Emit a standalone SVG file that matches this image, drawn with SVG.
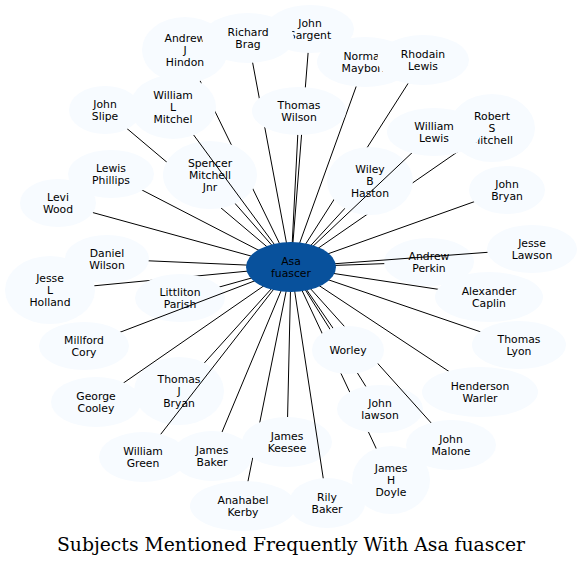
<svg xmlns="http://www.w3.org/2000/svg" width="582" height="567" viewBox="0 0 582 567">
<style>
.n ellipse{fill:#f7fbff;stroke:none}
.n text,.c text{font-family:"DejaVu Sans",sans-serif;font-size:10.8px;text-anchor:middle;fill:#000}
.e line{stroke:#000;stroke-width:1}
.c ellipse{fill:#08519c;stroke:none}
.t{font-family:"DejaVu Serif",serif;font-size:18.8px;text-anchor:middle;fill:#000}
</style>
<rect width="582" height="567" fill="#fff"/>
<g id="connectors">
<g class="e">
<line x1="291" y1="267" x2="185" y2="50"/>
<line x1="291" y1="267" x2="248" y2="38"/>
<line x1="291" y1="267" x2="310" y2="29"/>
<line x1="291" y1="267" x2="423" y2="60"/>
<line x1="291" y1="267" x2="105" y2="110"/>
<line x1="291" y1="267" x2="299" y2="111"/>
<line x1="291" y1="267" x2="492" y2="128"/>
<line x1="291" y1="267" x2="111" y2="174"/>
<line x1="291" y1="267" x2="210" y2="175"/>
<line x1="291" y1="267" x2="370" y2="181"/>
<line x1="291" y1="267" x2="507" y2="190"/>
<line x1="291" y1="267" x2="58" y2="203"/>
<line x1="291" y1="267" x2="107" y2="259"/>
<line x1="291" y1="267" x2="50" y2="290"/>
<line x1="291" y1="267" x2="180" y2="298"/>
<line x1="291" y1="267" x2="429" y2="262"/>
<line x1="291" y1="267" x2="519" y2="345"/>
<line x1="291" y1="267" x2="348" y2="350"/>
<line x1="291" y1="267" x2="179" y2="391"/>
<line x1="291" y1="267" x2="480" y2="392"/>
<line x1="291" y1="267" x2="380" y2="409"/>
<line x1="291" y1="267" x2="212" y2="456"/>
<line x1="291" y1="267" x2="287" y2="442"/>
<line x1="291" y1="267" x2="391" y2="480"/>
<line x1="291" y1="267" x2="243" y2="506"/>
</g>
</g>
<g id="n-spencer" class="n"><ellipse cx="210" cy="175" rx="47" ry="34"/><text><tspan x="210" y="167">Spencer</tspan><tspan x="210" y="179">Mitchell</tspan><tspan x="210" y="191">Jnr</tspan></text></g>
<g id="n-wiley" class="n"><ellipse cx="370" cy="181" rx="43" ry="34"/><text><tspan x="370" y="173">Wiley</tspan><tspan x="370" y="185">B</tspan><tspan x="370" y="197">Haston</tspan></text></g>
<g id="n-andrewperkin" class="n"><ellipse cx="429" cy="262" rx="45" ry="24"/><text><tspan x="429" y="260">Andrew</tspan><tspan x="429" y="272">Perkin</tspan></text></g>
<g id="n-littliton" class="n"><ellipse cx="180" cy="298" rx="45" ry="24"/><text><tspan x="180" y="296">Littliton</tspan><tspan x="180" y="308">Parish</tspan></text></g>
<g id="n-thomasjbryan" class="n"><ellipse cx="179" cy="391" rx="45" ry="34"/><text><tspan x="179" y="383">Thomas</tspan><tspan x="179" y="395">J</tspan><tspan x="179" y="407">Bryan</tspan></text></g>
<g id="n-jameskeesee" class="n"><ellipse cx="287" cy="442" rx="45" ry="25"/><text><tspan x="287" y="440">James</tspan><tspan x="287" y="452">Keesee</tspan></text></g>
<g id="n-johnlawson" class="n"><ellipse cx="380" cy="409" rx="43" ry="24"/><text><tspan x="380" y="407">John</tspan><tspan x="380" y="419">lawson</tspan></text></g>
<g id="connectors-over">
<g class="e">
<line x1="291" y1="267" x2="173" y2="107"/>
<line x1="291" y1="267" x2="365" y2="62"/>
<line x1="291" y1="267" x2="434" y2="132"/>
<line x1="291" y1="267" x2="532" y2="249"/>
<line x1="291" y1="267" x2="489" y2="297"/>
<line x1="291" y1="267" x2="84" y2="346"/>
<line x1="291" y1="267" x2="96" y2="402"/>
<line x1="291" y1="267" x2="143" y2="457"/>
<line x1="291" y1="267" x2="327" y2="503"/>
<line x1="291" y1="267" x2="451" y2="445"/>
</g>
</g>
<g id="n-andrewjhindon" class="n"><ellipse cx="185" cy="50" rx="43" ry="33"/><text><tspan x="185" y="42">Andrew</tspan><tspan x="185" y="54">J</tspan><tspan x="185" y="66">Hindon</tspan></text></g>
<g id="n-johnsargent" class="n"><ellipse cx="310" cy="29" rx="44" ry="24"/><text><tspan x="310" y="27">John</tspan><tspan x="310" y="39">Sargent</tspan></text></g>
<g id="n-richardbrag" class="n"><ellipse cx="248" cy="38" rx="46" ry="25"/><text><tspan x="248" y="36">Richard</tspan><tspan x="248" y="48">Brag</tspan></text></g>
<g id="n-norman" class="n"><ellipse cx="365" cy="62" rx="48" ry="25"/><text><tspan x="365" y="60">Norman</tspan><tspan x="365" y="72">Mayborn</tspan></text></g>
<g id="n-rhodain" class="n"><ellipse cx="423" cy="60" rx="46" ry="25"/><text><tspan x="423" y="58">Rhodain</tspan><tspan x="423" y="70">Lewis</tspan></text></g>
<g id="n-johnslipe" class="n"><ellipse cx="105" cy="110" rx="36" ry="24"/><text><tspan x="105" y="108">John</tspan><tspan x="105" y="120">Slipe</tspan></text></g>
<g id="n-williamlmitchel" class="n"><ellipse cx="173" cy="107" rx="43" ry="32"/><text><tspan x="173" y="99">William</tspan><tspan x="173" y="111">L</tspan><tspan x="173" y="123">Mitchel</tspan></text></g>
<g id="n-thomaswilson" class="n"><ellipse cx="299" cy="111" rx="47" ry="24"/><text><tspan x="299" y="109">Thomas</tspan><tspan x="299" y="121">Wilson</tspan></text></g>
<g id="n-robert" class="n"><ellipse cx="492" cy="128" rx="43" ry="34"/><text><tspan x="492" y="120">Robert</tspan><tspan x="492" y="132">S</tspan><tspan x="492" y="144">Mitchell</tspan></text></g>
<g id="n-williamlewis" class="n"><ellipse cx="434" cy="132" rx="47" ry="24"/><text><tspan x="434" y="130">William</tspan><tspan x="434" y="142">Lewis</tspan></text></g>
<g id="n-lewisphillips" class="n"><ellipse cx="111" cy="174" rx="43" ry="24"/><text><tspan x="111" y="172">Lewis</tspan><tspan x="111" y="184">Phillips</tspan></text></g>
<g id="n-johnbryan" class="n"><ellipse cx="507" cy="190" rx="38" ry="24"/><text><tspan x="507" y="188">John</tspan><tspan x="507" y="200">Bryan</tspan></text></g>
<g id="n-leviwood" class="n"><ellipse cx="58" cy="203" rx="38" ry="24"/><text><tspan x="58" y="201">Levi</tspan><tspan x="58" y="213">Wood</tspan></text></g>
<g id="n-danielwilson" class="n"><ellipse cx="107" cy="259" rx="42" ry="24"/><text><tspan x="107" y="257">Daniel</tspan><tspan x="107" y="269">Wilson</tspan></text></g>
<g id="n-jesselholland" class="n"><ellipse cx="50" cy="290" rx="45" ry="34"/><text><tspan x="50" y="282">Jesse</tspan><tspan x="50" y="294">L</tspan><tspan x="50" y="306">Holland</tspan></text></g>
<g id="n-jesselawson" class="n"><ellipse cx="532" cy="249" rx="45" ry="24"/><text><tspan x="532" y="247">Jesse</tspan><tspan x="532" y="259">Lawson</tspan></text></g>
<g id="n-alexandercaplin" class="n"><ellipse cx="489" cy="297" rx="54" ry="25"/><text><tspan x="489" y="295">Alexander</tspan><tspan x="489" y="307">Caplin</tspan></text></g>
<g id="n-millfordcory" class="n"><ellipse cx="84" cy="346" rx="45" ry="24"/><text><tspan x="84" y="344">Millford</tspan><tspan x="84" y="356">Cory</tspan></text></g>
<g id="n-thomaslyon" class="n"><ellipse cx="519" cy="345" rx="47" ry="24"/><text><tspan x="519" y="343">Thomas</tspan><tspan x="519" y="355">Lyon</tspan></text></g>
<g id="n-worley" class="n"><ellipse cx="348" cy="350" rx="36" ry="24"/><text x="348" y="354">Worley</text></g>
<g id="n-georgecooley" class="n"><ellipse cx="96" cy="402" rx="45" ry="25"/><text><tspan x="96" y="400">George</tspan><tspan x="96" y="412">Cooley</tspan></text></g>
<g id="n-hendersonwarler" class="n"><ellipse cx="480" cy="392" rx="58" ry="25"/><text><tspan x="480" y="390">Henderson</tspan><tspan x="480" y="402">Warler</tspan></text></g>
<g id="n-williamgreen" class="n"><ellipse cx="143" cy="457" rx="44" ry="25"/><text><tspan x="143" y="455">William</tspan><tspan x="143" y="467">Green</tspan></text></g>
<g id="n-jamesbaker" class="n"><ellipse cx="212" cy="456" rx="40" ry="25"/><text><tspan x="212" y="454">James</tspan><tspan x="212" y="466">Baker</tspan></text></g>
<g id="n-johnmalone" class="n"><ellipse cx="451" cy="445" rx="45" ry="25"/><text><tspan x="451" y="443">John</tspan><tspan x="451" y="455">Malone</tspan></text></g>
<g id="n-jameshdoyle" class="n"><ellipse cx="391" cy="480" rx="39" ry="34"/><text><tspan x="391" y="472">James</tspan><tspan x="391" y="484">H</tspan><tspan x="391" y="496">Doyle</tspan></text></g>
<g id="n-anahabelkerby" class="n"><ellipse cx="243" cy="506" rx="53" ry="25"/><text><tspan x="243" y="504">Anahabel</tspan><tspan x="243" y="516">Kerby</tspan></text></g>
<g id="n-rilybaker" class="n"><ellipse cx="327" cy="503" rx="38" ry="25"/><text><tspan x="327" y="501">Rily</tspan><tspan x="327" y="513">Baker</tspan></text></g>
<g id="n-asafuascer" class="c"><ellipse cx="291" cy="267" rx="45" ry="25"/><text><tspan x="291" y="265">Asa</tspan><tspan x="291" y="277">fuascer</tspan></text></g>
<text class="t" x="291" y="551">Subjects Mentioned Frequently With Asa fuascer</text>
</svg>
